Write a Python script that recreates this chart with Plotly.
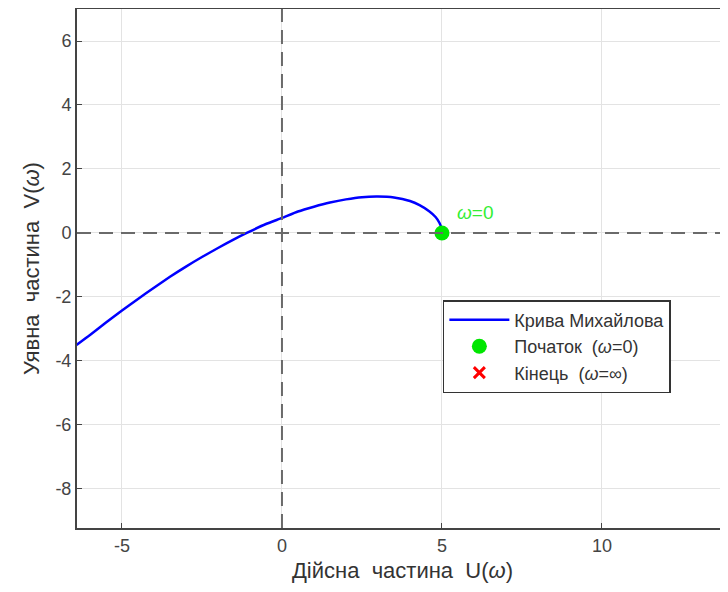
import plotly.graph_objects as go

# Mikhailov curve points (U, V)
curve_u = [-6.42, -6.0, -5.5, -5.0, -4.5, -4.0, -3.5, -3.0, -2.5, -2.0, -1.5, -1.1, -0.5, 0.0,
           0.5, 1.0, 1.5, 2.0, 2.5, 3.0, 3.5, 4.0, 4.3, 4.6, 4.8, 4.92, 4.98, 5.0]
curve_v = [-3.50, -3.19, -2.80, -2.42, -2.06, -1.71, -1.37, -1.05, -0.75, -0.47, -0.20, 0.0, 0.28, 0.47,
           0.67, 0.82, 0.95, 1.05, 1.12, 1.14, 1.11, 1.00, 0.87, 0.68, 0.50, 0.32, 0.16, 0.0]

start_u = [5.0]
start_v = [0.0]

x_ticks = [-5, 0, 5, 10]
x_tick_labels = ["-5", "0", "5", "10"]
y_ticks = [-8, -6, -4, -2, 0, 2, 4, 6]
y_tick_labels = ["-8", "-6", "-4", "-2", "0", "2", "4", "6"]

FONT = "Liberation Sans, Arial, sans-serif"
GREEN = "#00e600"

fig = go.Figure()

# dashed zero axes
fig.add_shape(type="line", xref="x", yref="paper", x0=0, x1=0, y0=0, y1=1,
              line=dict(color="#6a6a6a", width=2, dash="14px,8px"), layer="above")
fig.add_shape(type="line", xref="paper", yref="y", x0=0, x1=1, y0=0, y1=0,
              line=dict(color="#6a6a6a", width=2, dash="14px,8px"), layer="above")

fig.add_trace(go.Scatter(x=curve_u, y=curve_v, mode="lines", name="Крива Михайлова",
                         line=dict(color="#0000ff", width=2.5, shape="spline", smoothing=0.5)))
fig.add_trace(go.Scatter(x=start_u, y=start_v, mode="markers", name="Початок  (<i>ω</i>=0)",
                         marker=dict(color=GREEN, size=15, symbol="circle")))
fig.add_trace(go.Scatter(x=[None], y=[None], mode="markers", name="Кінець  (<i>ω</i>=∞)",
                         marker=dict(color="#ff0000", size=11, symbol="x-thin", line=dict(color="#ff0000", width=3))))

fig.add_annotation(x=5.41, y=0.625, xref="x", yref="y", text="<i>ω</i>=0", showarrow=False,
                   xanchor="left", yanchor="middle", font=dict(family=FONT, size=19, color="#33ee33"))

fig.update_layout(
    width=720, height=584,
    margin=dict(l=69, r=0, t=1, b=64, pad=0),
    paper_bgcolor="white", plot_bgcolor="white",
    font=dict(family=FONT, size=18, color="#444444"),
    showlegend=True,
    legend=dict(x=0.562, y=0.439, xanchor="left", yanchor="top",
                bgcolor="white", bordercolor="#333333", borderwidth=1.5,
                font=dict(family=FONT, size=18, color="#333333"),
                tracegroupgap=0, itemwidth=60),
)
fig.update_xaxes(range=[-6.406, 13.94], tickvals=x_ticks, ticktext=x_tick_labels,
                 showgrid=True, gridcolor="#e3e3e3", gridwidth=1, zeroline=False,
                 showline=True, linecolor="#444444", linewidth=2, mirror=True,
                 ticks="inside", ticklen=5, tickcolor="#444444", automargin=False,
                 tickfont=dict(size=18, color="#444444"),
                 title=dict(text="Дійсна  частина  U(<i>ω</i>)", font=dict(family=FONT, size=22, color="#333333"), standoff=8))
fig.update_yaxes(range=[-9.22, 7.0], tickvals=y_ticks, ticktext=y_tick_labels,
                 showgrid=True, gridcolor="#e3e3e3", gridwidth=1, zeroline=False,
                 showline=True, linecolor="#444444", linewidth=2, mirror=False,
                 ticks="inside", ticklen=5, tickcolor="#444444", automargin=False,
                 tickfont=dict(size=18, color="#444444"),
                 title=dict(text="Уявна  частина  V(<i>ω</i>)", font=dict(family=FONT, size=22, color="#333333"), standoff=10))

fig.write_html("out.html")
